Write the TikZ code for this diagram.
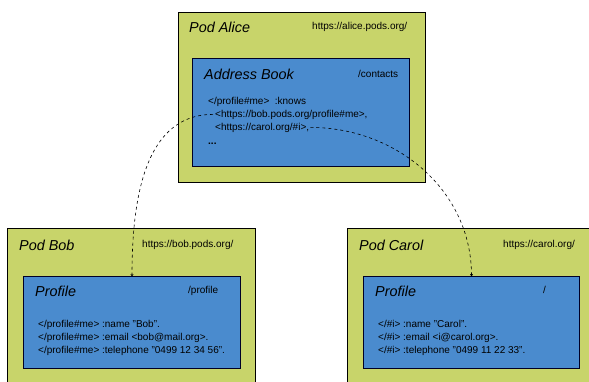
\documentclass[tikz,border=0pt]{standalone}
\usepackage{fontspec}
\setmainfont{Liberation Sans}
\usetikzlibrary{arrows.meta}
\definecolor{podgreen}{RGB}{200,212,106}
\definecolor{docblue}{RGB}{74,139,206}
\tikzset{
  pod/.style={draw=black,fill=podgreen,line width=0.8pt,anchor=north west,inner sep=0pt},
  doc/.style={draw=black!85!blue,fill=docblue,line width=1pt,anchor=north west,inner sep=0pt},
  title/.style={anchor=base west,inner sep=0pt,font=\fontsize{14.4}{17}\selectfont\itshape},
  small/.style={anchor=base west,inner sep=0pt,font=\fontsize{10}{13}\selectfont},
  link/.style={dashed,line width=0.6pt,-{To[length=2pt,width=3pt]}}
}
\begin{document}
\begin{tikzpicture}[x=1pt,y=-1pt]
  \clip (0,0) rectangle (589,381);
  % pods
  \node[pod,minimum width=247pt,minimum height=170pt] (alice) at (178,12) {};
  \node[pod,minimum width=248pt,minimum height=170pt] (bob) at (7,228) {};
  \node[pod,minimum width=260pt,minimum height=170pt] (carol) at (347,228) {};
  \node[title] (alicename) at (189,32) {Pod Alice};
  \node[small] (aliceurl) at (312,29) {https://alice.pods.org/};
  \node[title] (bobname) at (19,250) {Pod Bob};
  \node[small] (boburl) at (142,247) {https://bob.pods.org/};
  \node[title] (carolname) at (359,250) {Pod Carol};
  \node[small] (carolurl) at (503,247) {https://carol.org/};

  % documents
  \node[doc,minimum width=217pt,minimum height=108pt] (book) at (192,58) {};
  \node[doc,minimum width=217pt,minimum height=92pt] (bobdoc) at (23,276) {};
  \node[doc,minimum width=216pt,minimum height=92pt] (caroldoc) at (363,276) {};

  \node[title] (bookname) at (204,79) {Address Book};
  \node[small] (bookpath) at (358,77) {/contacts};
  \node[small] (knows) at (208,104) {</profile\#me>\ \ :knows};
  \node[small] (bobref) at (215,117) {<https://bob.pods.org/profile\#me>,};
  \node[small] (carolref) at (215,130) {<https://carol.org/\#i>,};
  \node[small] (more) at (208,144) {\textbf{...}};

  \node[title] (bobtitle) at (35,296) {Profile};
  \node[small] (bobpath) at (188,293) {/profile};
  \foreach \txt [count=\i] in {{</profile\#me> :name "Bob".},
      {</profile\#me> :email <bob@mail.org>.},
      {</profile\#me> :telephone "0499 12 34 56".}}
    \node[small] at (38,314+13*\i) {\txt};

  \node[title] (caroltitle) at (375,296) {Profile};
  \node[small] (carolpath) at (543,293) {/};
  \foreach \txt [count=\i] in {{</\#i> :name "Carol".},
      {</\#i> :email <i@carol.org>.},
      {</\#i> :telephone "0499 11 22 33".}}
    \node[small] at (378,314+13*\i) {\txt};

  % links
  \draw[link] ([xshift=-2pt]bobref.west) to[out=180,in=90] (bobdoc.north);
  \draw[link] ([xshift=1pt]carolref.east) to[out=0,in=90] (caroldoc.north);
\end{tikzpicture}
\end{document}
